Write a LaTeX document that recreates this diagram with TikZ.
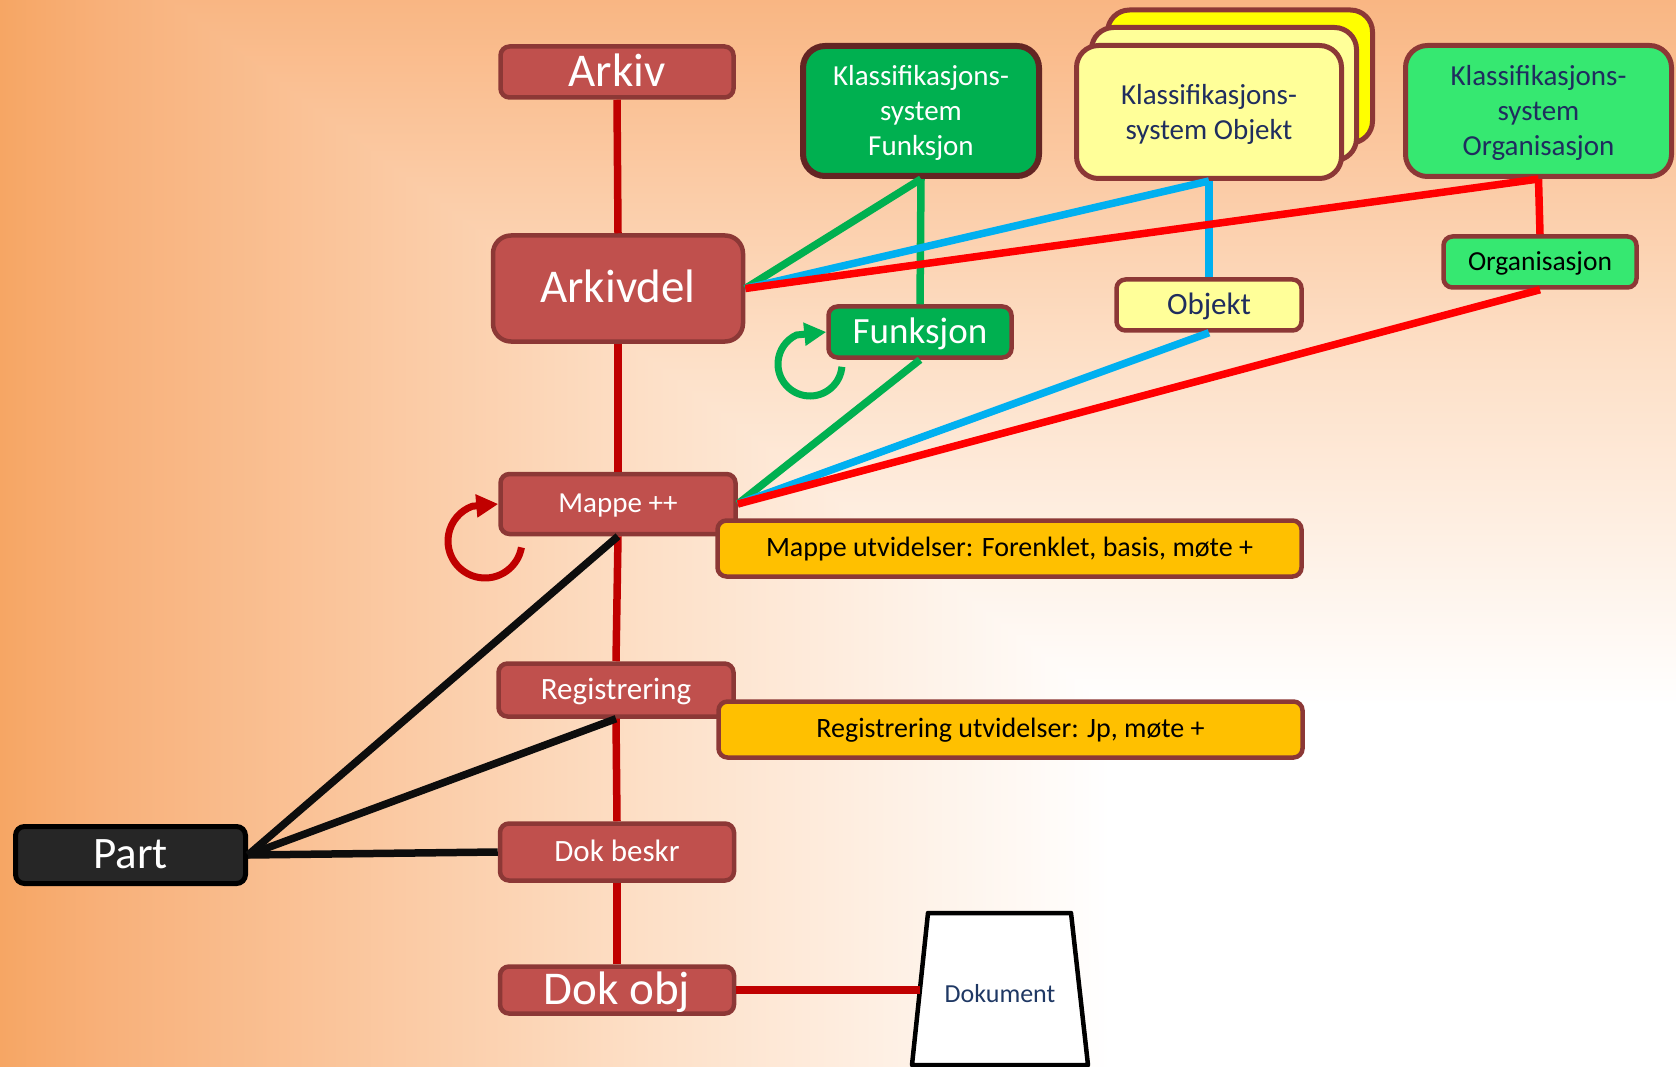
\documentclass[tikz,border=0pt]{standalone}
\usepackage{fontspec}
\setmainfont{Carlito}
\usetikzlibrary{arrows.meta,calc}

% palette
\definecolor{boxred}{HTML}{C0504D}
\definecolor{boxedge}{HTML}{8C3836}
\definecolor{darkedge}{HTML}{632523}
\definecolor{linkred}{HTML}{C00000}
\definecolor{brightred}{HTML}{FF0000}
\definecolor{fgreen}{HTML}{00B050}
\definecolor{lgreen}{HTML}{36E871}
\definecolor{paleyellow}{HTML}{FFFF99}
\definecolor{brightyellow}{HTML}{FFFF00}
\definecolor{amber}{HTML}{FFC000}
\definecolor{navy}{HTML}{1F2D5E}
\definecolor{docnavy}{HTML}{1F3864}
\definecolor{skyblue}{HTML}{00B0F0}
\definecolor{partfill}{HTML}{262626}
\definecolor{inkblack}{HTML}{0D0D0D}
% background ramp
\definecolor{bgA}{HTML}{F6A664}
\definecolor{bgB}{HTML}{F8B079}
\definecolor{bgC}{HTML}{FDDFC6}
\definecolor{bgD}{HTML}{F9B683}

\tikzset{
  basebox/.style={rounded corners=9pt, line width=4.5pt, inner sep=0pt, align=center},
  % single line text: font size, line box height and depth
  size47/.style={font=\fontsize{47}{56}\selectfont, text height=37.6pt, text depth=9.4pt},
  size45/.style={font=\fontsize{45}{54}\selectfont, text height=36pt, text depth=9pt},
  size37/.style={font=\fontsize{37}{44}\selectfont, text height=29.6pt, text depth=7.4pt},
  size31/.style={font=\fontsize{31}{37}\selectfont, text height=24.8pt, text depth=6.2pt},
  size29/.style={font=\fontsize{29}{35}\selectfont, text height=23.2pt, text depth=5.8pt},
  size28/.style={font=\fontsize{28}{34}\selectfont, text height=22.4pt, text depth=5.6pt},
  size27/.style={font=\fontsize{27.5}{33}\selectfont, text height=22pt, text depth=5.5pt},
  size26/.style={font=\fontsize{26}{31}\selectfont, text height=20.8pt, text depth=5.2pt},
  redbox/.style={basebox, fill=boxred, draw=boxedge, text=white},
  partbox/.style={basebox, fill=partfill, draw=black, line width=5pt, text=white},
  noteboxorange/.style={basebox, size28, fill=amber, draw=boxedge, text=black,
    minimum width=584pt, minimum height=56pt},
  classbox/.style={basebox, rounded corners=22pt, line width=5pt, draw=boxedge,
    font=\fontsize{29}{35}\selectfont},
  link/.style={line width=7.5pt},
  looparrow/.style={line width=7pt, -{Triangle[length=22pt,width=22pt]}},
  docshape/.style={draw=black, fill=white, line width=4.5pt, line join=round}
}

\begin{document}
\begin{tikzpicture}[x=1pt,y=-1pt]
\useasboundingbox (0,0) rectangle (1676,1067);

% ---- background: rectangular ramp fading to white towards the lower right
% left part varies with x only
\shade[left color=bgA, right color=bgB] (0,0) rectangle (101,1067);
\shade[left color=bgB, right color=bgC] (100,0) rectangle (641,1067);
\shade[left color=bgC, right color=white] (640,0) rectangle (1111,1067);
\fill[white] (1110,0) rectangle (1676,1067);
% upper right part varies with y only
\begin{scope}
  \clip (170,0) -- (1676,0) -- (1676,1067) -- (1592,1067) -- cycle;
  \shade[top color=bgD, bottom color=bgC] (0,0) rectangle (1676,353);
  \shade[top color=bgC, bottom color=white] (0,352) rectangle (1676,706);
  \fill[white] (0,705) rectangle (1676,1067);
\end{scope}

% ---- main chain
\node[redbox, size47, minimum width=233pt, minimum height=51pt] (arkiv) at (617,72) {Arkiv};
\node[redbox, size47, rounded corners=18pt, minimum width=250pt, minimum height=106pt]
      (arkivdel) at (618,288.5) {Arkivdel};
\node[redbox, size29, minimum width=235pt, minimum height=60pt] (mappe) at (618,504) {Mappe ++};
\node[redbox, size31, minimum width=235pt, minimum height=53pt] (reg) at (616,690) {Registrering};
\node[redbox, size31, minimum width=234pt, minimum height=57pt] (dokbeskr) at (617,852) {Dok beskr};
\node[redbox, size47, minimum width=234pt, minimum height=45pt] (dokobj) at (617,990) {Dok obj};

\node[partbox, size45, minimum width=230pt, minimum height=57pt] (part) at (130.5,855) {Part};

% ---- extension notes
\node[noteboxorange] (mutv) at (1009.5,548.5) {Mappe utvidelser: Forenklet, basis, møte +};
\node[noteboxorange] (rutv) at (1010.5,729.5) {Registrering utvidelser: Jp, møte +};

% ---- classification systems
\node[classbox, fill=fgreen, draw=darkedge, line width=6pt, text=white,
      minimum width=236pt, minimum height=130pt] (kfunk) at (921,111)
      {\rule{0pt}{0.85em}Klassifikasjons-\\system\\Funksjon};
\node[classbox, fill=brightyellow, minimum width=265pt, minimum height=133pt]
      (kobjback) at (1240,76.5) {};
\node[classbox, fill=paleyellow, minimum width=265pt, minimum height=133pt]
      (kobjmid) at (1224,94) {};
\node[classbox, fill=paleyellow, text=navy, minimum width=265pt, minimum height=133pt]
      (kobj) at (1209,112) {\rule{0pt}{0.85em}Klassifikasjons-\\system Objekt};
\node[classbox, fill=lgreen, text=navy, minimum width=266pt, minimum height=131pt]
      (korg) at (1538.5,111) {\rule{0pt}{0.85em}Klassifikasjons-\\system\\Organisasjon};

% ---- classes
\node[basebox, size37, fill=fgreen, draw=boxedge, text=white, minimum width=183pt,
      minimum height=51pt] (funk) at (920,332) {Funksjon};
\node[basebox, size31, fill=paleyellow, draw=boxedge, text=navy, minimum width=185pt,
      minimum height=51pt] (objekt) at (1209,305) {Objekt};
\node[basebox, size27, fill=lgreen, draw=boxedge, text=black, minimum width=193pt,
      minimum height=51pt] (org) at (1540,262) {Organisasjon};

% ---- document
\draw[docshape] (928,913) -- (1071,913) -- (1088,1065) -- (912,1065) -- cycle;
\node[size26, inner sep=0pt, text=docnavy] (dokument) at (1000,995) {Dokument};
\coordinate (dokin) at (920,990);

% ---- hierarchy links
\draw[link, linkred] (arkiv.south) -- (arkivdel.north);
\draw[link, linkred] (arkivdel.south) -- (mappe.north);
\draw[link, linkred] (mappe.south) -- (reg.north);
\draw[link, linkred] (reg.south) -- (dokbeskr.north);
\draw[link, linkred] (dokbeskr.south) -- (dokobj.north);
\draw[link, linkred] (dokobj.east) -- (dokin);

% ---- function classification
\draw[link, fgreen] (kfunk.south) -- (arkivdel.east);
\draw[link, fgreen] (kfunk.south) -- (funk.north);
\draw[link, fgreen] (funk.south) -- (mappe.east);

% ---- object classification
\draw[link, skyblue] (kobj.south) -- (arkivdel.east);
\draw[link, skyblue] (kobj.south) -- (objekt.north);
\draw[link, skyblue] (objekt.south) -- (mappe.east);

% ---- organisation classification
\draw[link, brightred] (korg.south) -- (arkivdel.east);
\draw[link, brightred] (korg.south) -- (org.north);
\draw[link, brightred] (org.south) -- (mappe.east);

% ---- parties
\draw[link, inkblack] (mappe.south) -- (part.east);
\draw[link, inkblack] (reg.south) -- (part.east);
\draw[link, inkblack] (dokbeskr.west) -- (part.east);

% ---- recursive relations
\coordinate (rloop) at (485,541);
\draw[looparrow, linkred] ($(rloop)+(10:37)$) arc[start angle=10, end angle=250, radius=37]
  -- (mappe.west);
\coordinate (gloop) at (810,364);
\draw[looparrow, fgreen] ($(gloop)+(5:32)$) arc[start angle=5, end angle=245, radius=32]
  -- (funk.west);
\end{tikzpicture}
\end{document}
